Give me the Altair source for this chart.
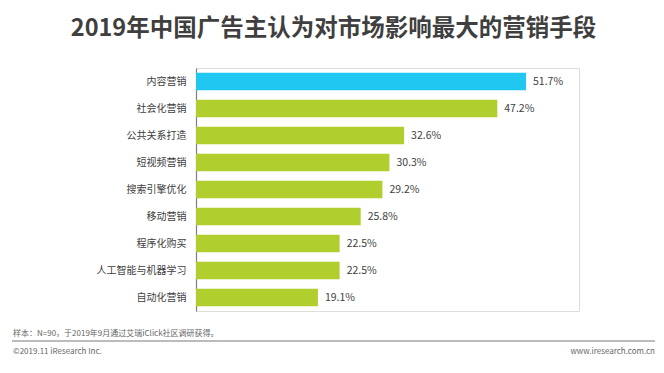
import altair as alt
import pandas as pd

categories = ["内容营销", "社会化营销", "公共关系打造", "短视频营销", "搜索引擎优化",
              "移动营销", "程序化购买", "人工智能与机器学习", "自动化营销"]
values = [51.7, 47.2, 32.6, 30.3, 29.2, 25.8, 22.5, 22.5, 19.1]
highlight = [True, False, False, False, False, False, False, False, False]

title_text = "2019年中国广告主认为对市场影响最大的营销手段"
note_text = "样本：N=90，于2019年9月通过艾瑞iClick社区调研获得。"
copyright_text = "©2019.11 iResearch Inc."
site_text = "www.iresearch.com.cn"

FONT = "Noto Sans CJK SC"
TXT = "#404040"

df = pd.DataFrame({"cat": categories, "val": values, "hl": highlight})
df["label"] = [f"{v:.1f}%" for v in values]

W, H = 383, 243

y_enc = alt.Y("cat:N", sort=categories,
              scale=alt.Scale(paddingInner=0.36, paddingOuter=0.18),
              axis=alt.Axis(title=None, ticks=False, labelPadding=10,
                            labelFont=FONT, labelFontSize=10, labelColor=TXT,
                            domainColor="#7f7f7f", domainWidth=1.2))
x_enc = alt.X("val:Q", scale=alt.Scale(domain=[0, 60], nice=False), axis=None)

bars = alt.Chart(df).mark_bar().encode(
    y=y_enc, x=x_enc,
    color=alt.condition(alt.datum.hl, alt.value("#20C7F0"), alt.value("#B1CE2F")),
)

labels = alt.Chart(df).mark_text(align="left", dx=7, font=FONT, fontSize=10.5,
                                 color=TXT).encode(
    y=alt.Y("cat:N", sort=categories), x="val:Q", text="label:N")

one = alt.Data(values=[{}])

note = alt.Chart(one).mark_text(font=FONT, fontSize=8, color="#666666",
                                align="left", baseline="middle").encode(
    x=alt.value(13 - 196), y=alt.value(334 - 68), text=alt.value(note_text))

rule = alt.Chart(one).mark_rule(color="#a6a6a6", strokeWidth=1.5).encode(
    x=alt.value(12 - 196), x2=alt.value(655 - 196), y=alt.value(341 - 68))

copy = alt.Chart(one).mark_text(font=FONT, fontSize=8, color="#666666",
                                align="left", baseline="middle").encode(
    x=alt.value(13 - 196), y=alt.value(352 - 68), text=alt.value(copyright_text))

site = alt.Chart(one).mark_text(font=FONT, fontSize=8, color="#666666",
                                align="right", baseline="middle").encode(
    x=alt.value(655 - 196), y=alt.value(352 - 68), text=alt.value(site_text))

chart = alt.layer(bars, labels, note, rule, copy, site).properties(
    width=W, height=H,
    title=alt.TitleParams(title_text, font=FONT, fontSize=23.5, fontWeight="bold",
                          color="#3f3f3f", anchor="middle", frame="bounds",
                          baseline="middle", offset=16),
    autosize=alt.AutoSizeParams(type="none"),
    padding={"left": 188, "top": 60, "right": 77, "bottom": 54},
).configure_view(stroke=None).configure(background="white")

chart.save("out.html", embed_options={"renderer": "svg", "actions": False})
